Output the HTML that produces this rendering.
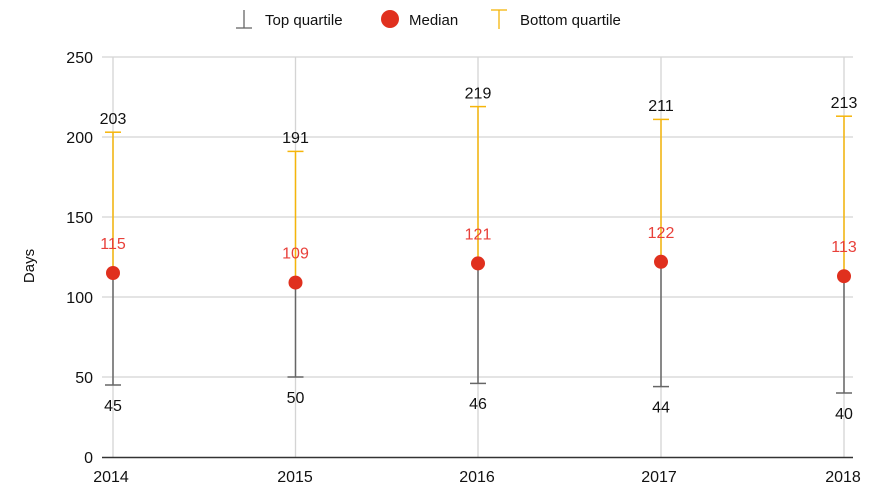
<!DOCTYPE html>
<html><head><meta charset="utf-8"><style>body{margin:0;background:#fff}svg{display:block}text{font-family:"Liberation Sans",Arial,sans-serif}</style></head>
<body>
<svg width="885" height="498" viewBox="0 0 885 498" xmlns="http://www.w3.org/2000/svg">
<g stroke="#d4d4d4" stroke-width="1.3">
<line x1="102" y1="57" x2="853" y2="57"/><line x1="102" y1="137" x2="853" y2="137"/><line x1="102" y1="217" x2="853" y2="217"/><line x1="102" y1="297" x2="853" y2="297"/><line x1="102" y1="377" x2="853" y2="377"/>
<line x1="113" y1="57" x2="113" y2="457"/><line x1="295.5" y1="57" x2="295.5" y2="457"/><line x1="478" y1="57" x2="478" y2="457"/><line x1="661" y1="57" x2="661" y2="457"/><line x1="844" y1="57" x2="844" y2="457"/>
</g>
<line x1="102" y1="457.5" x2="853" y2="457.5" stroke="#333" stroke-width="1.5"/>
<g font-size="16" fill="#111" text-anchor="end">
<text x="93" y="63">250</text><text x="93" y="143">200</text><text x="93" y="223">150</text><text x="93" y="303">100</text><text x="93" y="383">50</text><text x="93" y="463">0</text>
</g>
<g font-size="16" fill="#111" text-anchor="middle">
<text x="111" y="482">2014</text><text x="295" y="482">2015</text><text x="477" y="482">2016</text><text x="659" y="482">2017</text><text x="843" y="482">2018</text>
</g>
<text transform="translate(34,266) rotate(-90)" font-size="15" text-anchor="middle" fill="#111">Days</text>

<g stroke="#666" stroke-width="1.5">
<line x1="113" y1="385" x2="113" y2="273"/><line x1="105" y1="385" x2="121" y2="385"/>
<line x1="295.5" y1="377" x2="295.5" y2="282.6"/><line x1="287.5" y1="377" x2="303.5" y2="377"/>
<line x1="478" y1="383.4" x2="478" y2="263.4"/><line x1="470" y1="383.4" x2="486" y2="383.4"/>
<line x1="661" y1="386.6" x2="661" y2="261.8"/><line x1="653" y1="386.6" x2="669" y2="386.6"/>
<line x1="844" y1="393" x2="844" y2="276.2"/><line x1="836" y1="393" x2="852" y2="393"/>
</g>
<g stroke="#f5b50a" stroke-width="1.5">
<line x1="113" y1="273" x2="113" y2="132.2"/><line x1="105" y1="132.2" x2="121" y2="132.2"/>
<line x1="295.5" y1="282.6" x2="295.5" y2="151.4"/><line x1="287.5" y1="151.4" x2="303.5" y2="151.4"/>
<line x1="478" y1="263.4" x2="478" y2="106.6"/><line x1="470" y1="106.6" x2="486" y2="106.6"/>
<line x1="661" y1="261.8" x2="661" y2="119.4"/><line x1="653" y1="119.4" x2="669" y2="119.4"/>
<line x1="844" y1="276.2" x2="844" y2="116.2"/><line x1="836" y1="116.2" x2="852" y2="116.2"/>
</g>
<g fill="#e0301e">
<circle cx="113" cy="273" r="7"/><circle cx="295.5" cy="282.6" r="7"/><circle cx="478" cy="263.4" r="7"/><circle cx="661" cy="261.8" r="7"/><circle cx="844" cy="276.2" r="7"/>
</g>
<g font-size="16" fill="#111" text-anchor="middle">
<text x="113" y="124">203</text><text x="295.5" y="143">191</text><text x="478" y="98.5">219</text><text x="661" y="111">211</text><text x="844" y="108">213</text>
<text x="113" y="411">45</text><text x="295.5" y="403">50</text><text x="478" y="409">46</text><text x="661" y="412.5">44</text><text x="844" y="419">40</text>
</g>
<g font-size="16" fill="#e8403a" text-anchor="middle">
<text x="113" y="249">115</text><text x="295.5" y="258.5">109</text><text x="478" y="239.5">121</text><text x="661" y="238">122</text><text x="844" y="252">113</text>
</g>

<line x1="244" y1="10" x2="244" y2="28" stroke="#666" stroke-width="1.3"/><line x1="236" y1="28" x2="252" y2="28" stroke="#666" stroke-width="1.3"/>
<text x="265" y="25" font-size="15" fill="#111">Top quartile</text>
<circle cx="390" cy="19" r="9" fill="#e0301e"/>
<text x="409" y="25" font-size="15" fill="#111">Median</text>
<line x1="491" y1="10" x2="507" y2="10" stroke="#f5b50a" stroke-width="1.3"/><line x1="499" y1="10" x2="499" y2="29" stroke="#f5b50a" stroke-width="1.3"/>
<text x="520" y="25" font-size="15" fill="#111">Bottom quartile</text>
</svg>
</body></html>
